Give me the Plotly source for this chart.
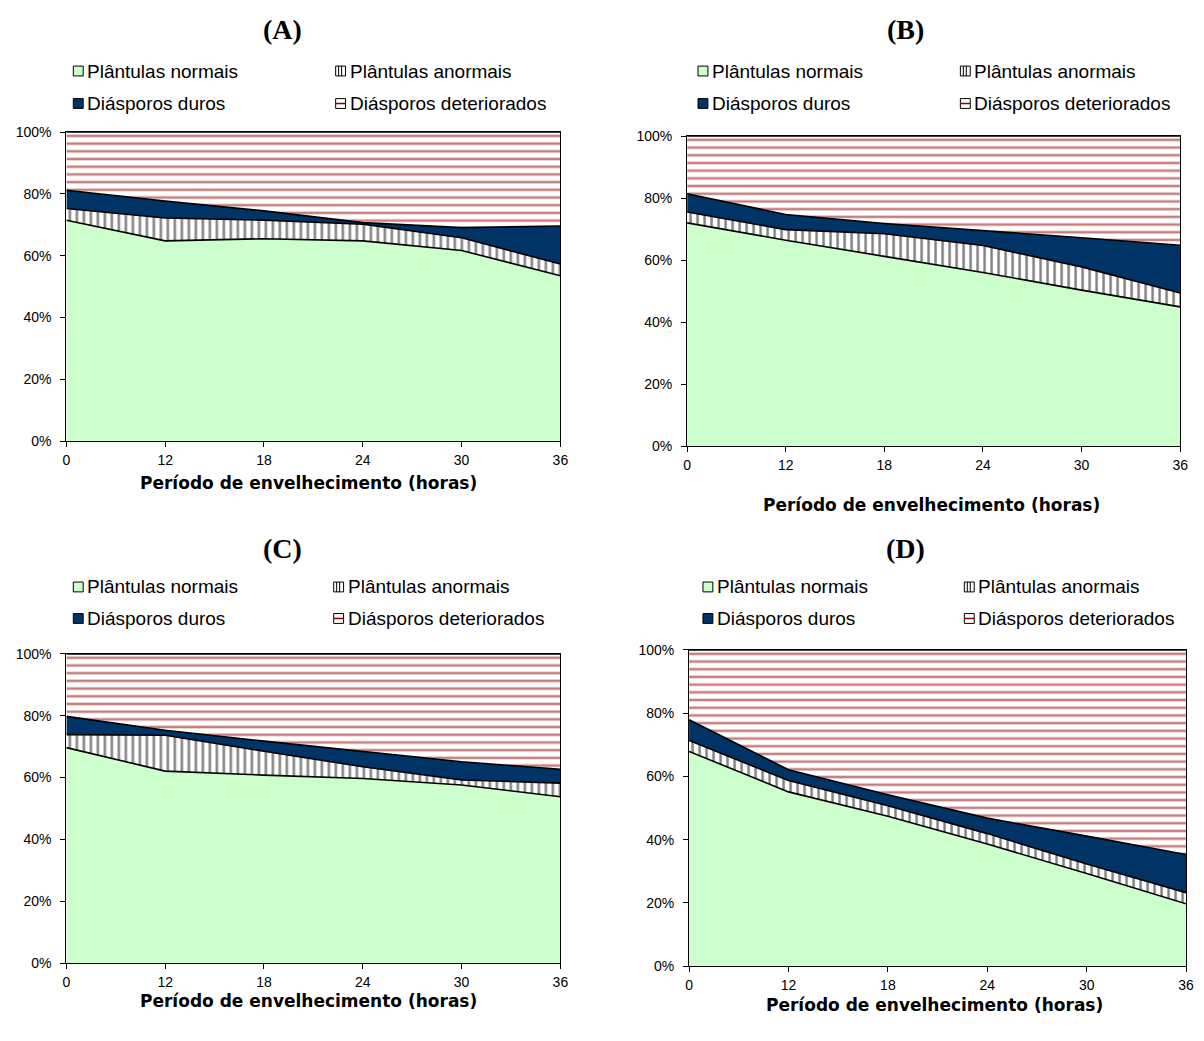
import plotly.graph_objects as go

W, H = 1204, 1041

hours = ["0", "12", "18", "24", "30", "36"]
series_names = ["Plântulas normais", "Plântulas anormais", "Diásporos duros", "Diásporos deteriorados"]
panel_labels = ["(A)", "(B)", "(C)", "(D)"]
yticks = [0, 20, 40, 60, 80, 100]
ytick_text = ["0%", "20%", "40%", "60%", "80%", "100%"]
xtitle = "Período de envelhecimento (horas)"

# Panel A
a_normais = [71.5, 64.8, 65.5, 64.8, 61.7, 53.5]
a_anormais = [3.8, 7.4, 6.0, 5.4, 4.1, 3.8]
a_duros = [5.9, 5.5, 3.0, 0.5, 3.3, 12.3]
a_deteriorados = [18.8, 22.3, 25.5, 29.3, 30.9, 30.4]
# Panel B
b_normais = [72.0, 66.4, 61.2, 56.0, 50.3, 44.9]
b_anormais = [3.5, 3.4, 7.3, 8.7, 7.5, 4.5]
b_duros = [5.9, 4.9, 3.3, 4.9, 9.4, 15.4]
b_deteriorados = [18.6, 25.3, 28.2, 30.4, 32.8, 35.2]
# Panel C
c_normais = [69.7, 62.1, 60.8, 59.7, 57.6, 53.8]
c_anormais = [4.2, 11.6, 7.7, 3.8, 1.6, 4.4]
c_duros = [5.9, 1.6, 3.3, 5.0, 5.9, 4.5]
c_deteriorados = [20.2, 24.7, 28.2, 31.5, 34.9, 37.3]
# Panel D
d_normais = [67.9, 55.1, 47.4, 38.6, 29.3, 19.7]
d_anormais = [3.5, 3.6, 3.3, 3.3, 3.0, 3.5]
d_duros = [6.5, 3.4, 3.5, 4.9, 8.8, 12.1]
d_deteriorados = [22.1, 37.9, 45.8, 53.2, 58.9, 64.7]

panels = [
    [a_normais, a_anormais, a_duros, a_deteriorados],
    [b_normais, b_anormais, b_duros, b_deteriorados],
    [c_normais, c_anormais, c_duros, c_deteriorados],
    [d_normais, d_anormais, d_duros, d_deteriorados],
]

GREEN = "#CCFFCC"
NAVY = "#003366"
RED = "#8B0000"
SANS = "Liberation Sans, Arial, sans-serif"
WIDE = "DejaVu Sans, Liberation Sans, sans-serif"
SERIF = "Liberation Serif, Times New Roman, serif"

# plot-area boxes in pixels: (left, right, top, bottom)
boxes = [
    (63, 562, 126, 440),
    (690, 1188, 130, 445),
    (63, 562, 656, 970),
    (692, 1194, 652, 973),
]
title_pos = [(281, 22), (911, 22), (281, 549), (911, 549)]
xtitle_pos = [(308, 482), (937, 505), (308, 1008), (940, 1013)]
legend_rows = [(64, 97), (64, 97), (588, 620), (588, 620)]
legend_cols = [(75, 340), (706, 971), (75, 338), (711, 975)]


def px(x):
    return x / W


def py(y):
    return 1 - y / H


fig = go.Figure()
layout = dict(
    width=W, height=H, margin=dict(l=0, r=0, t=0, b=0),
    paper_bgcolor="white", plot_bgcolor="white", showlegend=False,
)
annotations = []
shapes = []

for i, vals in enumerate(panels):
    k = "" if i == 0 else str(i + 1)
    xa, ya = "x" + k, "y" + k
    styles = [
        dict(fillcolor=GREEN),
        dict(fillcolor="white", fillpattern=dict(shape="|", fgcolor="#000000", bgcolor="white", size=7, solidity=0.35)),
        dict(fillcolor=NAVY),
        dict(fillcolor="white", fillpattern=dict(shape="-", fgcolor=RED, bgcolor="white", size=7.7, solidity=0.33)),
    ]
    for name, v, st in zip(series_names, vals, styles):
        fig.add_trace(go.Scatter(
            x=hours, y=v, name=name, mode="lines", stackgroup="g%d" % i,
            line=dict(color="black", width=1.6), xaxis=xa, yaxis=ya, **st,
        ))
    l, r, t, b = boxes[i]
    layout["xaxis" + k] = dict(
        domain=[px(l), px(r)], anchor=ya, type="category", range=[0, 5],
        showline=True, linecolor="black", linewidth=1.2, mirror=True,
        ticks="outside", ticklen=5, tickcolor="black", showgrid=False, zeroline=False,
        tickfont=dict(family=SANS, size=14, color="black"), ticklabelstandoff=1,
    )
    layout["yaxis" + k] = dict(
        domain=[py(b), py(t)], anchor=xa, range=[0, 100],
        tickvals=yticks, ticktext=ytick_text,
        showline=True, linecolor="black", linewidth=1.2, mirror=True,
        ticks="outside", ticklen=5, tickcolor="black", showgrid=False, zeroline=False,
        tickfont=dict(family=SANS, size=14, color="black"), ticklabelstandoff=6,
    )
    tx, ty = title_pos[i]
    annotations.append(dict(
        x=px(tx), y=py(ty), xref="paper", yref="paper", text="<b>%s</b>" % panel_labels[i],
        showarrow=False, xanchor="center", yanchor="middle",
        font=dict(family=SERIF, size=28, color="black"),
    ))
    ax, ay = xtitle_pos[i]
    annotations.append(dict(
        x=px(ax), y=py(ay), xref="paper", yref="paper", text="<b>%s</b>" % xtitle,
        showarrow=False, xanchor="center", yanchor="middle",
        font=dict(family=WIDE, size=17, color="black"),
    ))
    r1, r2 = legend_rows[i]
    c1, c2 = legend_cols[i]
    items = [(c1, r1), (c2, r1), (c1, r2), (c2, r2)]
    fills = [GREEN, "white", NAVY, "white"]
    for j, (cx, cy) in enumerate(items):
        s = 5
        shapes.append(dict(type="rect", xref="paper", yref="paper",
                           x0=px(cx - s), x1=px(cx + s), y0=py(cy + s), y1=py(cy - s),
                           fillcolor=fills[j], line=dict(color="black", width=1)))
        if j == 1:
            for dx in (-2, 1):
                shapes.append(dict(type="line", xref="paper", yref="paper",
                                   x0=px(cx + dx), x1=px(cx + dx), y0=py(cy + s), y1=py(cy - s),
                                   line=dict(color="black", width=1)))
        if j == 3:
            shapes.append(dict(type="line", xref="paper", yref="paper",
                               x0=px(cx - s), x1=px(cx + s), y0=py(cy), y1=py(cy),
                               line=dict(color=RED, width=1.5)))
        annotations.append(dict(
            x=px(cx + s + 2), y=py(cy), xref="paper", yref="paper", text=series_names[j],
            showarrow=False, xanchor="left", yanchor="middle",
            font=dict(family=SANS, size=19, color="black"),
        ))

layout["annotations"] = annotations
layout["shapes"] = shapes
fig.update_layout(**layout)
fig.write_html(
    "out.html",
    config={"displayModeBar": False},
    post_script="document.body.style.margin='0px';document.body.style.overflow='hidden';",
)
